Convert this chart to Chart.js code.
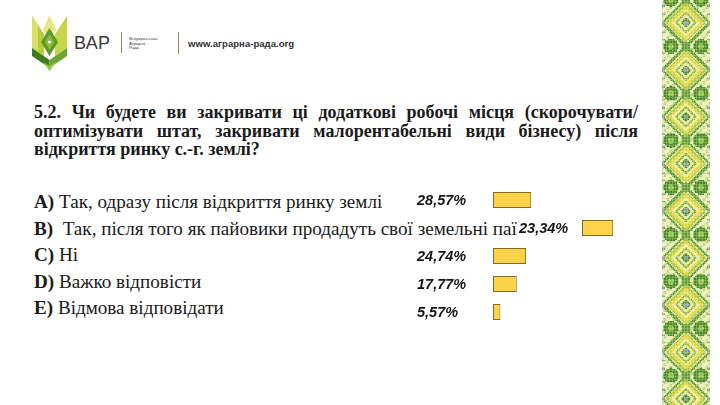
<!DOCTYPE html>
<html><head><meta charset="utf-8">
<script src="https://cdn.jsdelivr.net/npm/chart.js@4.4.1/dist/chart.umd.min.js"></script>
<style>
html,body{margin:0;padding:0;background:#fff;}
#page{position:relative;width:720px;height:405px;overflow:hidden;background:#fff;color:#1a1a1a;font-family:"Liberation Serif","DejaVu Serif","Noto Serif","Tinos","Times New Roman",serif;}
.tline{position:absolute;left:34px;font-weight:bold;white-space:pre;line-height:1;}
.aline{position:absolute;left:34px;white-space:pre;line-height:1;}
.aline b{font-weight:bold;}
#chartBox{position:absolute;left:400px;top:180px;width:240px;height:150px;}
#orn{position:absolute;left:648px;top:0;}
.logoT{position:absolute;font-family:"Liberation Sans",Arial,sans-serif;color:#3a3a3a;}
.vbar{position:absolute;width:1px;background:#8b8a4a;}
</style></head>
<body><div id="page">
<svg style="position:absolute;left:0;top:0" width="100" height="80">
  <polygon points="32,16 44,34 44,56 32,48" fill="#b9cc3b"/>
  <polygon points="67,16 55,34 55,56 67,48" fill="#c6d54a"/>
  <polygon points="32,16 38,25 38,51 32,48" fill="#d9e06a"/>
  <polygon points="49.5,15 56,30 49.5,38 43,30" fill="#e6e77e"/>
  <polygon points="49.5,28 58,42 49.5,56 41,42" fill="#5c9a2b"/>
  <polygon points="49.5,34 54,42 49.5,50 45,42" fill="#8dbc3a"/>
  <circle cx="49.5" cy="42" r="1.6" fill="#fff"/>
  <polygon points="32,48 49.5,60 49.5,68 32,56" fill="#3f7a22"/>
  <polygon points="67,48 49.5,60 49.5,68 67,56" fill="#6aa832"/>
  <polygon points="43,62 49.5,71 56,62 49.5,66" fill="#9cc43e"/>
</svg>
<div class="logoT" style="left:74px;top:33px;font-size:18px;letter-spacing:0.3px;">ВАР</div>
<div class="vbar" style="left:121px;top:32px;height:21px;"></div>
<div class="logoT" style="left:129px;top:37px;font-size:4.3px;line-height:4.6px;">Всеукраїнська<br>Аграрна<br>Рада</div>
<div class="vbar" style="left:178px;top:32px;height:22px;"></div>
<div class="logoT" style="left:188px;top:38px;font-size:9.6px;font-weight:bold;color:#333;">www.аграрна-рада.org</div>

<div id="titleBox"></div>
<div id="answerBox"></div>
<div id="chartBox"><canvas id="chart"></canvas></div>
<canvas id="orn" width="72" height="405"></canvas>
</div>
<script>
// ---------- data ----------
const titleLines = [
  "5.2. Чи будете ви закривати ці додаткові робочі місця (скорочувати/",
  "оптимізувати штат, закривати малорентабельні види бізнесу) після",
  "відкриття ринку с.-г. землі?"
];
const categories = ["A", "B", "C", "D", "E"];
const answerLetters = ["A)", "B)", "C)", "D)", "E)"];
const answerTexts = [
  " Так, одразу після відкриття ринку землі",
  "  Так, після того як пайовики продадуть свої земельні паї",
  " Ні",
  " Важко відповісти",
  " Відмова відповідати"
];
const shares = [28.57, 23.34, 24.74, 17.77, 5.57];
const shareLabels = ["28,57%", "23,34%", "24,74%", "17,77%", "5,57%"];

// ---------- layout / style (not data) ----------
const TITLE_W = 604;
const titleBaselines = [118.5, 137, 155.5];
const answerBaselines = [208.5, 235.5, 261, 288, 314.5];
const ROW_B_TEXT_END = 517;
const rowShift = {1: {bar: 89, label: 102}};   // row B is set off to the right on the slide
const LABEL_OFFSET = 76;                         // value label starts this far left of the bar base

// ---------- title ----------
const titleBox = document.getElementById('titleBox');
const tEls = titleLines.map(t => { const d = document.createElement('div'); d.className = 'tline'; d.textContent = t; titleBox.appendChild(d); return d; });
let tfs = 18; tEls.forEach(e => e.style.fontSize = tfs + 'px');
const w0 = tEls[0].getBoundingClientRect().width;
if (w0 > TITLE_W - 6) { tfs = tfs * (TITLE_W - 6) / w0; }
tEls.forEach((e, i) => {
  e.style.fontSize = tfs + 'px';
  e.style.top = (titleBaselines[i] - 0.8375 * tfs) + 'px';
  if (i < 2) {
    const w = e.getBoundingClientRect().width;
    const spaces = (titleLines[i].match(/ /g) || []).length;
    e.style.wordSpacing = ((TITLE_W - w) / spaces) + 'px';
  }
});

// ---------- answers ----------
const answerBox = document.getElementById('answerBox');
const aEls = answerTexts.map((t, i) => {
  const d = document.createElement('div'); d.className = 'aline';
  const b = document.createElement('b'); b.textContent = answerLetters[i];
  d.appendChild(b); d.appendChild(document.createTextNode(t));
  answerBox.appendChild(d); return d;
});
let afs = 17; aEls.forEach(e => e.style.fontSize = afs + 'px');
const wb = aEls[1].getBoundingClientRect().width;
afs = afs * (ROW_B_TEXT_END - 34) / wb;
aEls.forEach((e, i) => { e.style.fontSize = afs + 'px'; e.style.top = (answerBaselines[i] - 0.8375 * afs) + 'px'; });

// ---------- chart ----------
const slidePlugin = {
  id: 'slidePlugin',
  afterDatasetsUpdate(chart) {
    const meta = chart.getDatasetMeta(0);
    meta.data.forEach((el, i) => {
      const s = rowShift[i];
      if (s) { el.x += s.bar; el.base += s.bar; }
    });
  },
  afterDatasetsDraw(chart) {
    const ctx = chart.ctx;
    const meta = chart.getDatasetMeta(0);
    const x0 = chart.scales.x.getPixelForValue(0);
    ctx.save();
    ctx.font = 'italic bold 14.5px "Liberation Sans", Arial, sans-serif';
    ctx.fillStyle = '#151515';
    ctx.textAlign = 'left';
    ctx.textBaseline = 'middle';
    meta.data.forEach((el, i) => {
      const s = rowShift[i];
      ctx.fillText(shareLabels[i], x0 - LABEL_OFFSET + (s ? s.label : 0), el.y + 1);
    });
    ctx.restore();
  }
};

new Chart(document.getElementById('chart'), {
  type: 'bar',
  data: {
    labels: categories,
    datasets: [{
      data: shares,
      backgroundColor: '#ffd24a',
      borderColor: '#7e6d22',
      borderWidth: 1,
      borderSkipped: false,
      barPercentage: 0.57,
      categoryPercentage: 1
    }]
  },
  options: {
    indexAxis: 'y',
    responsive: true,
    maintainAspectRatio: false,
    animation: false,
    layout: {padding: {left: 93, top: 6, bottom: 4, right: 0}},
    plugins: {legend: {display: false}, tooltip: {enabled: false}},
    scales: {
      x: {display: false, min: 0, max: 110},
      y: {display: false}
    }
  },
  plugins: [slidePlugin]
});

// ---------- decorative embroidery strip ----------
(function () {
  const c = document.getElementById('orn'); const g = c.getContext('2d');
  const cx = 38, P = 47, y0 = 23, cell = 1.5, HW = 24;
  for (let y = 0; y < 405; y += cell) {
    for (let x = cx - HW; x < cx + HW; x += cell) {
      const k = Math.round((y - y0) / P);
      const dy = y + cell / 2 - (y0 + k * P), dx = x + cell / 2 - cx;
      const ax = Math.abs(dx), ay = Math.abs(dy), d = ax + ay;
      const sx = Math.floor(x / 3), sy = Math.floor(y / 3);
      let col;
      if (d <= 2.5) col = '#8aa2b0';
      else if (d <= 5) col = '#4f8d26';
      else if (d <= 8) col = '#eeeb9a';
      else if (d <= 11) col = ((sx + sy) % 2) ? '#7fb035' : '#9cc440';
      else if (d <= 13.5) col = '#f2ee9e';
      else if (d <= 17.5) col = '#e0d63e';
      else if (d <= 20) col = '#a9c236';
      else {
        const ey = P / 2 - ay;
        const rl = Math.hypot(ax - 15, ey);
        if (ax >= 21 && ((Math.floor(ay) % 8) < 2)) col = '#8e9c84';
        else if (rl < 3) col = '#8cbd3c';
        else if (rl < 7.5) col = '#4a8a22';
        else if (Math.abs(ax - ey) < 1.6) col = '#5e9a2c';
        else if (ax < 5 && ey < 5) col = '#6ea632';
        else col = ((sx + sy) % 3 === 0) ? '#bfd478' : '#ecefb6';
      }
      g.fillStyle = col; g.fillRect(x, y, cell, cell);
    }
  }
})();
</script>
</body></html>
